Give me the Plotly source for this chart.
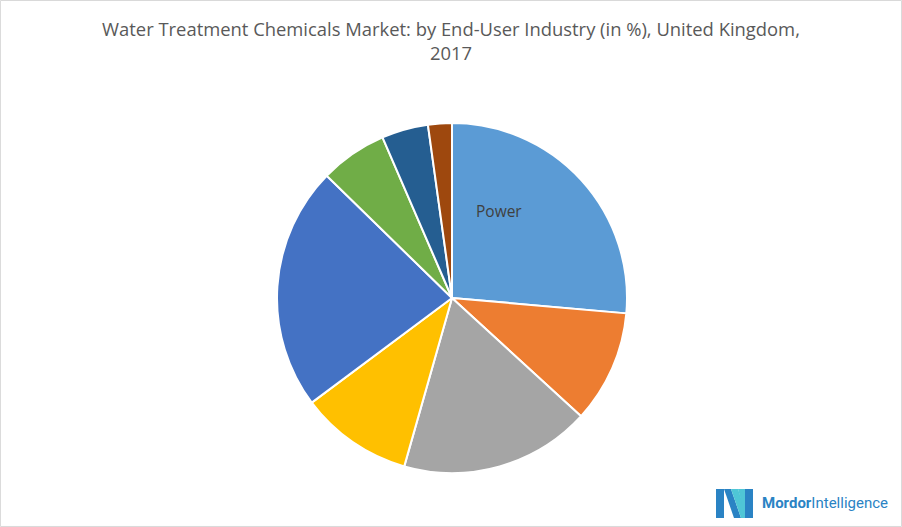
import plotly.graph_objects as go

categories = ["Power", "Oil & Gas", "Chemical Manufacturing", "Mining & Mineral Processing",
              "Municipal", "Food & Beverage", "Pulp & Paper", "Others"]
values = [26.4, 10.4, 17.6, 10.4, 22.5, 6.2, 4.3, 2.2]
colors = ["#5B9BD5", "#ED7D31", "#A5A5A5", "#FFC000", "#4472C4", "#70AD47", "#255E91", "#9E480E"]

W, H = 902, 527
cx, cy, r = 452, 298, 175

fig = go.Figure(go.Pie(
    labels=categories, values=values, sort=False, direction="clockwise", rotation=0,
    marker=dict(colors=colors, line=dict(color="white", width=2)),
    textinfo="none",
    showlegend=False, hoverinfo="label+percent",
    domain=dict(x=[(cx - r) / W, (cx + r) / W], y=[(H - cy - r) / H, (H - cy + r) / H]),
))

shapes = [dict(type="rect", xref="paper", yref="paper", x0=0.0005, y0=0.001, x1=0.9995, y1=0.999,
               line=dict(color="#D9D9D9", width=1))]

def px(x, y):
    return f"{x / W:.5f},{1 - y / H:.5f}"

icon_paths = [
    ("#2A83C4", [(716, 489), (724, 489), (724, 518), (716, 518)]),
    ("#2A83C4", [(724, 489), (731, 489), (741, 518), (734, 518)]),
    ("#4FC6D6", [(731, 489), (738, 489), (748, 518), (741, 518)]),
    ("#4FC6D6", [(738, 489), (745, 489), (745, 518), (741, 500)]),
    ("#2A83C4", [(745, 489), (753, 489), (753, 518), (745, 518)]),
]
for col, pts in icon_paths:
    path = "M " + " L ".join(px(x, y) for x, y in pts) + " Z"
    shapes.append(dict(type="path", xref="paper", yref="paper", path=path,
                       fillcolor=col, line=dict(width=0)))

fig.update_layout(
    width=W, height=H, margin=dict(l=0, r=0, t=0, b=0),
    paper_bgcolor="white", plot_bgcolor="white",
    title=dict(text="Water Treatment Chemicals Market: by End-User Industry (in %), United Kingdom,<br>2017",
               x=0.5, xanchor="center", y=1 - 36 / H, yanchor="top",
               font=dict(family="Open Sans", size=18.4, color="#595959")),
    shapes=shapes,
    annotations=[
        dict(text=categories[0], xref="paper", yref="paper",
             x=499 / W, y=1 - 211 / H, xanchor="center", yanchor="middle", showarrow=False,
             font=dict(family="Open Sans", size=15.5, color="#404040")),
        dict(text="<b>Mordor</b>Intelligence", xref="paper", yref="paper",
             x=760 / W, y=1 - 503 / H, xanchor="left", yanchor="middle", showarrow=False,
             font=dict(family="Roboto", size=15, color="#2A83C4")),
    ],
)
fig.write_html("out.html", config={"displayModeBar": False},
               post_script="document.body.style.margin='0';")
